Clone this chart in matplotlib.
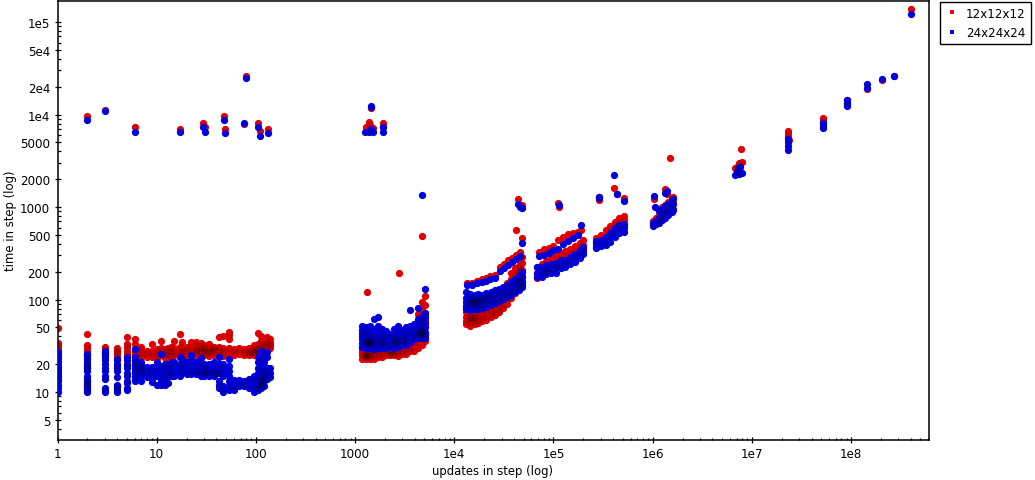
import matplotlib
matplotlib.use('Agg')
import matplotlib.pyplot as plt
from matplotlib.lines import Line2D
from matplotlib.ticker import FixedLocator, FixedFormatter, NullFormatter

# each strip: one x value and the y values read at that x
red_strip_x = [1, 2, 3, 4, 5, 6, 7, 8, 9, 10, 11, 12, 13, 14, 15, 17, 18, 20, 22, 25, 28, 30, 34, 38, 42, 47, 53, 60, 68, 76, 85, 95, 105, 112, 120, 130, 140]
red_strip_y = [
    [49, 34, 32, 30, 28, 26, 24],
    [42, 32, 30, 28, 26, 25],
    [31, 29, 27, 25],
    [30, 28, 26, 24],
    [39, 33, 31, 28, 26, 24],
    [37, 33, 29, 27, 25],
    [31, 29, 27, 25, 24],
    [28, 26, 24],
    [33, 28, 26, 24],
    [29, 27, 25, 23.5],
    [36, 30, 27, 25],
    [29, 27, 25, 23.5],
    [30, 27, 25],
    [31, 28, 26, 24],
    [36, 30, 27, 25],
    [42, 31, 28, 26, 24],
    [35, 30, 28, 26],
    [31, 29, 27, 24.5],
    [35, 31, 28, 26, 24],
    [35, 32, 29, 27, 25],
    [34, 31, 29, 27, 24.5],
    [32, 30, 27, 25],
    [33, 30, 28, 26, 24.5],
    [31, 29, 27, 25],
    [39, 31, 29, 27, 25],
    [40, 30, 28, 26, 24.5],
    [45, 41, 37, 30, 28, 26],
    [29, 27, 25],
    [30, 28, 26],
    [29, 27, 25],
    [30, 28, 26, 25],
    [32, 29, 27, 25],
    [44, 33, 30, 28, 26],
    [40, 36, 33, 30, 28],
    [34, 31, 29],
    [39, 35, 32, 30],
    [37, 34, 32, 30],
]

blue_strip_x = [1, 2, 3, 4, 5, 6, 7, 8, 9, 10, 11, 12, 13, 14, 15, 17, 18, 20, 22, 25, 28, 30, 34, 38, 42, 47, 53, 60, 68, 76, 85, 95, 105, 112, 120, 130, 140]
blue_strip_y = [
    [27, 25, 23, 21, 19, 18, 17, 16, 15, 14, 13, 12, 11, 10],
    [26, 24, 22.5, 21, 20, 19, 18, 17, 15, 14, 13, 12, 11, 10.5, 10],
    [28, 26, 24, 22, 20, 18, 17, 15, 14, 11, 10.5, 10],
    [23, 22, 20, 19, 18, 17, 14.5, 12, 11.5, 11, 10.5, 10],
    [24, 22, 20, 19, 18, 16, 15, 13, 12.5, 11, 10.5],
    [29, 24, 22, 21, 20, 19, 18, 17, 16, 15, 14, 13],
    [21, 20, 19, 18, 17, 16, 15, 13],
    [18.5, 17, 16, 14.5],
    [18.5, 17, 15.5, 14, 12.7],
    [21, 19, 17, 15, 12],
    [26, 19, 17, 15, 13.5, 12],
    [20, 18, 16, 14, 12],
    [20, 18, 16, 15, 12.5],
    [21, 18, 16, 15],
    [21, 19, 17, 15],
    [24, 20, 18, 16, 15],
    [23, 20, 18, 16],
    [21, 19, 17, 15.5],
    [25, 22, 19, 17, 15.5],
    [21, 19, 17, 15.5],
    [23.5, 20, 18, 16, 15],
    [20, 18, 16, 15],
    [20, 18, 16.5, 15],
    [21, 18, 16.5, 15],
    [24, 20, 18, 16, 13, 12, 11],
    [20, 18, 16, 15, 11.5, 10.5, 10],
    [23, 19, 17, 15, 13, 11.5, 10.5],
    [13.5, 12, 11, 10.5],
    [13.5, 12.5, 11.5],
    [13, 12, 11.5],
    [14, 13, 12, 11],
    [15, 14, 12.5, 11, 10],
    [24, 21, 18, 16, 14, 12, 11, 10.5],
    [28, 23, 19, 17, 15, 13, 12, 11],
    [26, 21, 17, 15, 13, 11.5],
    [27, 24, 18, 16, 14],
    [18, 16, 14.5],
]

red_mid_x = [1170, 1290, 1420, 1560, 1700, 1860, 2060, 2260, 2480, 2720, 2990, 3280, 3600, 3950, 4340, 4760, 5100]
red_mid_y = [
    [31, 29, 27, 25, 23],
    [30, 28, 26, 24, 22.5],
    [29, 27, 25, 23],
    [30, 28, 26, 24.5, 23],
    [28, 26, 24],
    [30, 28, 26, 24],
    [29, 27, 25],
    [31, 28, 26, 25],
    [32, 29, 27, 25],
    [33, 31, 28, 26, 24.5],
    [33, 30, 28, 26],
    [35, 31, 28, 26],
    [38, 33, 30, 28],
    [48, 40, 35, 31, 28],
    [70, 60, 50, 40, 34, 30],
    [95, 80, 68, 55, 45, 38, 32],
    [108, 88, 72, 60, 50, 42, 36],
]
blue_mid_x = [1170, 1290, 1420, 1560, 1700, 1860, 2060, 2260, 2480, 2720, 2990, 3280, 3600, 3950, 4340, 4760, 5100]
blue_mid_y = [
    [52, 47, 43, 40, 37, 34, 31],
    [51, 45, 42, 39, 36, 33, 30],
    [52, 44, 41, 38, 35, 32, 30],
    [62, 48, 41, 38, 35, 32, 29],
    [64, 52, 43, 39, 36, 33, 30],
    [48, 42, 39, 36, 33, 30],
    [46, 41, 38, 35, 32, 30],
    [42, 39, 36, 33, 30.5],
    [48, 41, 38, 35, 32, 30],
    [52, 46, 41, 37, 34, 31],
    [47, 42, 38, 35, 32],
    [50, 45, 40, 37, 34, 32],
    [78, 52, 46, 42, 38, 35],
    [55, 48, 44, 40, 37],
    [82, 62, 56, 50, 45, 41, 38],
    [65, 62, 56, 50, 45, 41, 38],
    [130, 72, 64, 56, 50, 45, 41, 38],
]

red_band_x = [13200, 14500, 16000, 17500, 19200, 21100, 23200, 25500, 28000, 30700, 33700, 37000, 40700, 44700, 48500]
red_band_y = [
    [83, 73, 65, 58, 54],
    [82, 72, 63, 56, 52],
    [83, 72, 64, 58, 55],
    [85, 75, 66, 60, 56],
    [88, 78, 70, 63, 58],
    [90, 80, 72, 65, 60],
    [95, 85, 76, 69, 64],
    [98, 88, 80, 72, 68],
    [105, 95, 85, 78, 74],
    [128, 110, 98, 88, 82],
    [150, 128, 110, 98, 90],
    [195, 165, 140, 120, 105],
    [220, 190, 160, 135, 118],
    [270, 230, 195, 165, 140],
    [290, 250, 210, 180, 160],
]
blue_band_x = [13200, 14500, 16000, 17500, 19200, 21100, 23200, 25500, 28000, 30700, 33700, 37000, 40700, 44700, 48500]
blue_band_y = [
    [120, 105, 95, 86, 80],
    [115, 103, 93, 85, 78],
    [112, 102, 92, 85, 80],
    [114, 104, 94, 86, 80],
    [112, 102, 93, 86, 82],
    [118, 107, 97, 90, 84],
    [122, 112, 100, 93, 88],
    [126, 114, 104, 96, 92],
    [130, 120, 110, 102, 97],
    [135, 125, 115, 107, 102],
    [145, 132, 122, 112, 107],
    [155, 140, 128, 118, 112],
    [165, 150, 135, 125, 120],
    [180, 160, 145, 135, 128],
    [200, 175, 155, 145, 137],
]

red_arc3_x = [13500, 15000, 17000, 19000, 21000, 23000, 26000, 29000, 32000, 35000, 38000, 42000, 46000, 48000]
red_arc3_y = [150, 152, 158, 165, 172, 178, 185, 225, 245, 265, 280, 300, 325, 460]
blue_arc3_x = [13500, 15000, 17000, 19000, 21000, 23000, 26000, 29000, 32000, 35000, 38000, 42000, 46000, 48000]
blue_arc3_y = [143, 145, 150, 156, 160, 168, 172, 205, 220, 235, 255, 275, 295, 410]

red_band4_x = [68000, 76000, 85000, 95000, 106000, 118000, 132000, 147000, 165000, 184000, 200000]
red_band4_y = [
    [170, 190, 225],
    [185, 210, 245],
    [200, 230, 260],
    [215, 245, 280],
    [225, 260, 300],
    [240, 275, 310],
    [255, 290, 335],
    [270, 315, 350],
    [285, 330, 380],
    [315, 365, 410],
    [330, 385, 440],
]
blue_band4_x = [68000, 76000, 85000, 95000, 106000, 118000, 132000, 147000, 165000, 184000, 200000]
blue_band4_y = [
    [175, 195, 225],
    [175, 200, 225],
    [190, 215, 235],
    [195, 215, 240],
    [195, 225, 250],
    [220, 240, 270],
    [225, 250, 270],
    [240, 265, 290],
    [255, 285, 310],
    [280, 310, 340],
    [310, 340, 370],
]
red_arc4_x = [72000, 80000, 90000, 100000, 112000, 125000, 140000, 157000, 175000, 190000]
red_arc4_y = [330, 355, 365, 375, 440, 470, 510, 525, 540, 560]
blue_arc4_x = [72000, 80000, 90000, 100000, 112000, 125000, 140000, 157000, 175000, 190000]
blue_arc4_y = [295, 305, 320, 340, 350, 400, 430, 465, 500, 640]

red_band5_x = [270000, 300000, 335000, 370000, 415000, 460000, 510000]
red_band5_y = [
    [370, 410, 460],
    [395, 440, 500],
    [420, 480, 560],
    [470, 550, 620],
    [520, 620, 690],
    [580, 690, 760],
    [620, 720, 810],
]
blue_band5_x = [270000, 300000, 335000, 370000, 415000, 460000, 510000]
blue_band5_y = [
    [365, 395, 425],
    [380, 410, 440],
    [385, 420, 470],
    [420, 470, 530],
    [470, 530, 590],
    [520, 590, 640],
    [540, 600, 660],
]

red_band6_x = [1010000, 1080000, 1160000, 1250000, 1340000, 1440000, 1550000, 1620000]
red_band6_y = [
    [660, 710],
    [680, 760],
    [700, 830, 930],
    [740, 880, 1000],
    [800, 950, 1060],
    [860, 1020, 1130],
    [900, 1100, 1250],
    [950, 1120, 1300],
]
blue_band6_x = [1010000, 1080000, 1160000, 1250000, 1340000, 1440000, 1550000, 1620000]
blue_band6_y = [
    [630, 680],
    [650, 700],
    [680, 760, 900],
    [720, 840, 960],
    [770, 900, 1030],
    [820, 950, 1090],
    [880, 1020, 1180],
    [930, 1080, 1230],
]

# the darkest spots, where many runs pile up
red_core_x = [3, 4, 25, 25, 28, 30, 32, 32, 36, 36, 85, 90, 95, 100, 100, 1250, 1250, 1300, 1300, 1350, 1350, 1400, 2300, 2300, 2400, 14500, 14500, 15000, 15000, 16000, 40000, 42000, 44000, 44000, 46000, 46000]
red_core_y = [27, 27, 28, 29, 28, 29, 27, 28, 28, 29, 27, 28, 27, 28, 29, 24.5, 25, 24.5, 25, 25, 25, 24.5, 26, 27, 27, 62, 65, 62, 65, 64, 160, 165, 190, 200, 210, 225]
blue_core_x = [2, 2, 2, 2, 7, 7, 25, 28, 30, 30, 33, 35, 38, 40, 42, 108, 110, 112, 112, 115, 118, 120, 122,
               1300, 1300, 1300, 1350, 1350, 1350, 1400, 1400, 1400, 1450, 1450, 1800, 1800, 1900, 2500, 2500, 2600, 2600, 3000, 3000,
               4400, 4400, 4500, 4500, 4500, 4600, 4700, 4700, 4800,
               14500, 14500, 15000, 15000, 15000, 16000, 16000, 17000, 17000, 18000, 20000, 20000, 22000, 22000,
               44000, 45000, 46000, 80000, 85000, 85000, 95000, 105000, 105000, 1200000, 1300000, 1400000]
blue_core_y = [12, 12.5, 13, 18, 18, 17, 17, 17, 16.5, 17, 16.5, 16.5, 16, 16, 16,
               12, 13, 12, 13.5, 13, 14, 15, 16,
               34, 35, 36, 34, 35, 36, 34, 35, 36, 35, 36, 34, 36, 35, 34, 36, 35, 37, 36, 38,
               42, 46, 42, 44, 48, 45, 42, 46, 44,
               92, 98, 90, 95, 100, 92, 98, 95, 100, 98, 100, 105, 105, 110,
               150, 155, 160, 200, 195, 205, 215, 220, 230, 760, 830, 900]

# loose points and the small groups further right
red_x = [2, 3, 6, 17, 29.5, 31, 48, 49, 76, 80, 106, 111, 133,
         1280, 1370, 1400, 1500, 1900, 1900, 1450,
         1330, 2790, 4760,
         43900, 47600, 47600, 41500, 112000, 113000,
         285000, 285000, 410000, 440000, 510000,
         1020000, 1320000, 1400000, 1500000,
         6800000, 7000000, 7400000, 7700000, 7900000, 7200000, 7500000,
         23000000, 23200000, 23300000, 23400000,
         52000000, 52000000, 52000000,
         90000000, 90000000, 145000000, 205000000, 270000000, 405000000]
red_y = [9700, 11270, 7260, 7000, 8030, 7260, 9700, 7000, 7900, 25900, 8030, 6580, 6900,
         7300, 8300, 7700, 7100, 8100, 7300, 11800,
         120, 192, 482,
         1220, 1050, 1000, 560, 1100, 1000,
         1180, 1280, 1600, 1370, 1260,
         1210, 1550, 1400, 3400,
         2650, 2500, 3000, 4200, 3050, 2800, 2950,
         6650, 6200, 5700, 5300,
         9150, 8700, 8200,
         14300, 13000, 19000, 23800, 25800, 138000]
blue_x = [2, 3, 6, 17, 29.5, 31, 48, 49, 76, 80, 106, 111, 133,
          1250, 1380, 1450, 1520, 1900, 1900, 1450, 1450,
          4760,
          43900, 46000, 47600, 113000,
          285000, 410000, 440000, 510000, 285000,
          1020000, 1320000, 1400000, 1060000,
          6800000, 7000000, 7200000, 7400000, 7600000, 7900000, 7300000,
          23000000, 23200000, 23000000, 23300000,
          52000000, 52000000, 52000000,
          90000000, 90000000, 90000000, 145000000, 145000000, 205000000, 270000000, 405000000]
blue_y = [8650, 10800, 6420, 6420, 7260, 6420, 8650, 6270, 8200, 24600, 7260, 5810, 6270,
          6400, 6400, 7000, 6400, 6400, 7300, 12500, 12000,
          1340,
          1080, 1000, 980, 1040,
          1280, 2200, 1370, 1150, 1240,
          1320, 1430, 1480, 1010,
          2200, 2400, 2550, 2300, 2700, 2350, 2650,
          5400, 5000, 4600, 4150,
          8100, 7600, 7200,
          14350, 13400, 12400, 21500, 19200, 24300, 26200, 121000]

x_ticks = [1, 10, 100, 1000, 1e4, 1e5, 1e6, 1e7, 1e8]
x_labels = ['1', '10', '100', '1000', '1e4', '1e5', '1e6', '1e7', '1e8']
y_ticks = [5, 10, 20, 50, 100, 200, 500, 1000, 2000, 5000, 1e4, 2e4, 5e4, 1e5]
y_labels = ['5', '10', '20', '50', '100', '200', '500', '1000', '2000', '5000', '1e4', '2e4', '5e4', '1e5']


def flatten(xs, ys):
    out_x = []
    out_y = []
    for x, col in zip(xs, ys):
        for y in col:
            out_x.append(x)
            out_y.append(y)
    return out_x, out_y


red_all_x = red_x + red_arc3_x + red_arc4_x + red_core_x
red_all_y = red_y + red_arc3_y + red_arc4_y + red_core_y
for xs, ys in [(red_strip_x, red_strip_y), (red_mid_x, red_mid_y), (red_band_x, red_band_y),
               (red_band4_x, red_band4_y), (red_band5_x, red_band5_y), (red_band6_x, red_band6_y)]:
    a, b = flatten(xs, ys)
    red_all_x += a
    red_all_y += b

blue_all_x = blue_x + blue_arc3_x + blue_arc4_x + blue_core_x
blue_all_y = blue_y + blue_arc3_y + blue_arc4_y + blue_core_y
for xs, ys in [(blue_strip_x, blue_strip_y), (blue_mid_x, blue_mid_y), (blue_band_x, blue_band_y),
               (blue_band4_x, blue_band4_y), (blue_band5_x, blue_band5_y), (blue_band6_x, blue_band6_y)]:
    a, b = flatten(xs, ys)
    blue_all_x += a
    blue_all_y += b

plt.rcParams['font.family'] = 'DejaVu Sans'
fig = plt.figure(figsize=(10.35, 4.81), dpi=100)
ax = fig.add_axes([57.5 / 1035, 1 - 441 / 481, (929 - 57.5) / 1035, (441 - 2) / 481])

# solid dot first, then a faint dark one so that overlaps go darker like in the original
dot = 27
ax.scatter(red_all_x, red_all_y, s=dot, c='#ff0000', linewidths=0, zorder=2)
ax.scatter(red_all_x, red_all_y, s=dot, c='black', alpha=0.11, linewidths=0, zorder=2.1)
ax.scatter(blue_all_x, blue_all_y, s=dot, c='#0000ff', linewidths=0, zorder=3)
ax.scatter(blue_all_x, blue_all_y, s=dot, c='black', alpha=0.11, linewidths=0, zorder=3.1)

ax.set_xscale('log')
ax.set_yscale('log')
ax.set_xlim(1, 6.1e8)
ax.set_ylim(3.03, 1.69e5)

ax.xaxis.set_major_locator(FixedLocator(x_ticks))
ax.xaxis.set_major_formatter(FixedFormatter(x_labels))
ax.yaxis.set_major_locator(FixedLocator(y_ticks))
ax.yaxis.set_major_formatter(FixedFormatter(y_labels))
ax.xaxis.set_minor_locator(matplotlib.ticker.LogLocator(base=10, subs=range(2, 10), numticks=20))
ax.yaxis.set_minor_locator(matplotlib.ticker.LogLocator(base=10, subs=[3, 4, 6, 7, 8, 9], numticks=20))
ax.xaxis.set_minor_formatter(NullFormatter())
ax.yaxis.set_minor_formatter(NullFormatter())
ax.tick_params(which='major', direction='inout', length=4.5, width=0.9, labelsize=8.6, pad=3)
ax.tick_params(which='minor', direction='in', length=1.8, width=0.9)
for side in ax.spines.values():
    side.set_linewidth(1.1)

fig.text(493 / 1035, 1 - 472 / 481, 'updates in step (log)', ha='center', va='center', fontsize=8.4)
fig.text(11 / 1035, 1 - 221 / 481, 'time in step (log)', ha='center', va='center', rotation=90, fontsize=8.4)

handles = [Line2D([], [], ls='', marker='s', ms=3.2, color='#ff0000', mew=0, label='12x12x12'),
           Line2D([], [], ls='', marker='s', ms=3.2, color='#0000ff', mew=0, label='24x24x24')]
leg = ax.legend(handles=handles, loc='upper left', bbox_to_anchor=(939.5 / 1035, 1 - 2.5 / 481),
                bbox_transform=fig.transFigure, fontsize=8.6, frameon=True, fancybox=False,
                edgecolor='black', framealpha=1, borderaxespad=0, borderpad=0.42,
                handlelength=1.2, handletextpad=0.6, labelspacing=0.55)
leg.get_frame().set_linewidth(1.0)

fig.savefig('out.png', dpi=100)
